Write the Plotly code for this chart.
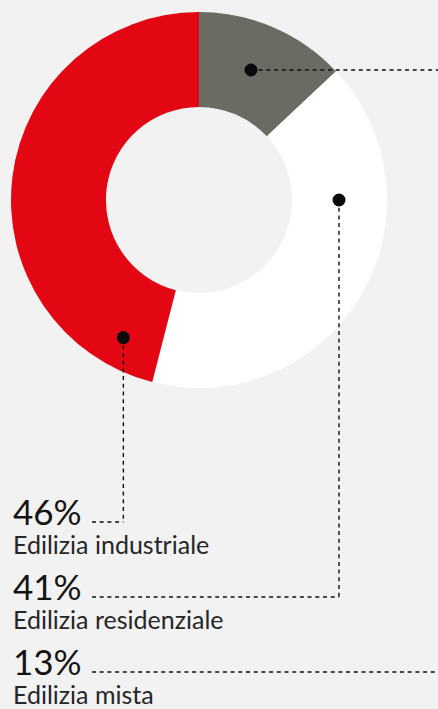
import math
import plotly.graph_objects as go

# ---- data ----
categories = ["Edilizia mista", "Edilizia residenziale", "Edilizia industriale"]
values = [13, 41, 46]
colors = ["#6b6b63", "#ffffff", "#e30613"]
# legend order (top to bottom)
legend_order = ["Edilizia industriale", "Edilizia residenziale", "Edilizia mista"]

# ---- layout constants (pixels) ----
W, H = 438, 709
CX, CY, R = 199, 200, 188
HOLE = 0.495
# anchor dots: angle (deg clockwise from 12 o'clock) and radius (px)
anchor_angle = {"Edilizia mista": 21.8, "Edilizia residenziale": 90.0, "Edilizia industriale": 208.8}
anchor_radius = {"Edilizia mista": 140, "Edilizia residenziale": 140, "Edilizia industriale": 157}
row_y0 = 522      # y of first leader line (baseline of first percent)
row_step = 75
text_x = 12
line_x0 = 92
DOT_R = 6.5

fig = go.Figure()
fig.add_trace(go.Pie(
    labels=categories, values=values, sort=False, direction="clockwise", rotation=0,
    hole=HOLE, marker=dict(colors=colors, line=dict(width=0)),
    textinfo="none", hoverinfo="label+percent", showlegend=False,
    domain=dict(x=[(CX - R) / W, (CX + R) / W], y=[1 - (CY + R) / H, 1 - (CY - R) / H]),
))

shapes = []
annotations = []
total = sum(values)
for i, name in enumerate(legend_order):
    v = values[categories.index(name)]
    a = math.radians(anchor_angle[name])
    r = anchor_radius[name]
    px = CX + r * math.sin(a)
    py = CY - r * math.cos(a)
    ly = row_y0 + i * row_step
    dash = dict(color="#111111", width=1.4, dash="4px,3.7px")
    if name == "Edilizia mista":
        shapes.append(dict(type="line", xref="x", yref="y", x0=px, y0=py, x1=W, y1=py, line=dash))
        shapes.append(dict(type="line", xref="x", yref="y", x0=line_x0, y0=ly, x1=W, y1=ly, line=dash))
    else:
        shapes.append(dict(type="line", xref="x", yref="y", x0=px, y0=py, x1=px, y1=ly, line=dash))
        shapes.append(dict(type="line", xref="x", yref="y", x0=line_x0, y0=ly, x1=px, y1=ly, line=dash))
    shapes.append(dict(type="circle", xref="x", yref="y", x0=px - DOT_R, x1=px + DOT_R,
                       y0=py - DOT_R, y1=py + DOT_R, fillcolor="#0a0a0a", line=dict(width=0),
                       layer="above"))
    pct = round(100 * v / total)
    annotations.append(dict(x=text_x - 1, y=ly - 11, xref="x", yref="y", text=f"{pct}%",
                            showarrow=False, xanchor="left", yanchor="middle",
                            font=dict(family="Lato", size=35, color="#141414")))
    annotations.append(dict(x=text_x - 1, y=ly + 22, xref="x", yref="y", text=name,
                            showarrow=False, xanchor="left", yanchor="middle",
                            font=dict(family="Lato", size=25, color="#262626")))

fig.update_layout(
    width=W, height=H, margin=dict(l=0, r=0, t=0, b=0),
    paper_bgcolor="#f2f2f2", plot_bgcolor="#f2f2f2",
    xaxis=dict(range=[0, W], visible=False, fixedrange=True),
    yaxis=dict(range=[H, 0], visible=False, fixedrange=True),
    shapes=shapes, annotations=annotations,
)
fig.write_html("out.html", config=dict(displayModeBar=False))

with open("out.html", "r", encoding="utf-8") as f:
    html = f.read()
html = html.replace("<head>", "<head><style>html,body{margin:0;padding:0;background:#f2f2f2;overflow:hidden}</style>", 1)
with open("out.html", "w", encoding="utf-8") as f:
    f.write(html)
